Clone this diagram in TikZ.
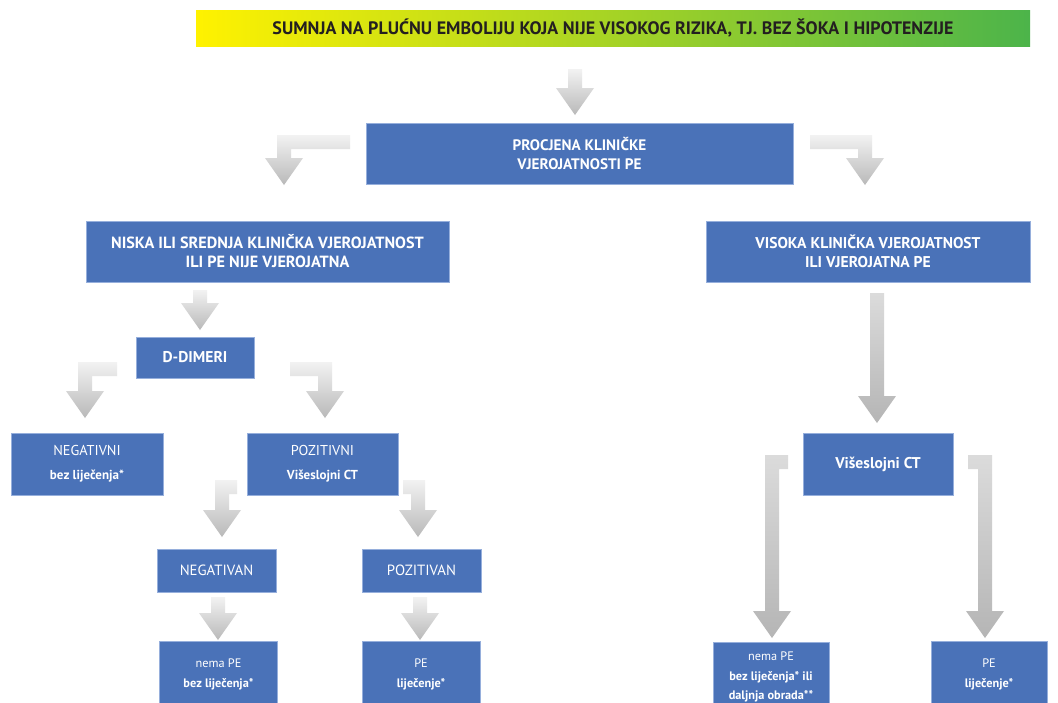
\documentclass[tikz,border=0pt]{standalone}
\usepackage{fontspec}
\setmainfont{PT Sans}
\usetikzlibrary{calc}
\definecolor{boxblue}{RGB}{74,114,184}
\definecolor{boxedge}{RGB}{150,175,220}
\definecolor{bannerY}{RGB}{255,242,0}
\definecolor{bannerM}{RGB}{185,215,45}
\definecolor{bannerG}{RGB}{76,180,74}
\definecolor{txtdark}{RGB}{35,31,32}
\tikzset{
  box/.style={fill=boxblue, draw=boxedge, line width=0.5pt, text=white, align=center,
    inner sep=0pt, font=\fontsize{15.6}{19}\selectfont\bfseries},
  smallbox/.style={box, font=\fontsize{13}{24}\selectfont\bfseries},
  tinybox/.style={box, font=\fontsize{12.3}{20}\selectfont\bfseries},
  blockarrow/.style={top color=gray!10, bottom color=gray!55, draw=none},
  longarrow/.style={top color=gray!28, bottom color=gray!58, draw=none},
  bannerbox/.style={left color=bannerY, middle color=bannerM, right color=bannerG,
    draw=none, inner sep=0pt, text=txtdark, font=\fontsize{18}{20}\selectfont\bfseries},
}
% straight down arrow: style, x, top y, tip y
\newcommand\dnarrow[4][blockarrow]{\path[#1] (#2-7,#3) -- (#2+7,#3) -- (#2+7,#4-27) -- (#2+19,#4-27)
  -- (#2,#4) -- (#2-19,#4-27) -- (#2-7,#4-27) -- cycle;}
% bent arrow going left then down: bar right end x, shaft x, bar top y, tip y
\newcommand\lbarrow[5][blockarrow]{\path[#1] (#2,#4) -- (#3-7,#4) -- (#3-7,#5-27) -- (#3-19,#5-27)
  -- (#3,#5) -- (#3+19,#5-27) -- (#3+7,#5-27) -- (#3+7,#4+14) -- (#2,#4+14) -- cycle;}
% bent arrow going right then down: bar left end x, shaft x, bar top y, tip y
\newcommand\rbarrow[5][blockarrow]{\path[#1] (#2,#4) -- (#3+7,#4) -- (#3+7,#5-27) -- (#3+19,#5-27)
  -- (#3,#5) -- (#3-19,#5-27) -- (#3-7,#5-27) -- (#3-7,#4+14) -- (#2,#4+14) -- cycle;}
\begin{document}
\begin{tikzpicture}[x=1pt,y=-1pt]
\useasboundingbox (0,0) rectangle (1058,702);
\clip (0,0) rectangle (1058,702);
\fill[white] (0,0) rectangle (1058,702);

\node[bannerbox, minimum width=834pt, minimum height=36pt] (banner) at (613,28)
  {SUMNJA NA PLUĆNU EMBOLIJU KOJA NIJE VISOKOG RIZIKA, TJ. BEZ ŠOKA I HIPOTENZIJE};

\node[box, minimum width=427pt, minimum height=61pt, font=\fontsize{15.2}{19}\selectfont\bfseries] (procjena) at (579.5,153.5)
  {PROCJENA KLINIČKE\\VJEROJATNOSTI PE};
\node[box, minimum width=363pt, minimum height=61pt, font=\fontsize{16.2}{19}\selectfont\bfseries] (niska) at (267.5,251.5)
  {NISKA ILI SREDNJA KLINIČKA VJEROJATNOST\\ILI PE NIJE VJEROJATNA};
\node[box, minimum width=324pt, minimum height=61pt] (visoka) at (868,251.5)
  {VISOKA KLINIČKA VJEROJATNOST\\ILI VJEROJATNA PE};
\node[box, minimum width=118pt, minimum height=41pt] (ddimeri) at (195,357.5) {D-DIMERI};
\node[smallbox, minimum width=152pt, minimum height=62pt] (negativni) at (87,464)
  {{\mdseries\fontsize{14.3}{24}\selectfont NEGATIVNI}\\bez liječenja*};
\node[smallbox, minimum width=151pt, minimum height=62pt] (pozitivni) at (322.5,464)
  {{\mdseries\fontsize{14.3}{24}\selectfont POZITIVNI}\\Višeslojni CT};
\node[box, minimum width=119pt, minimum height=43pt, font=\fontsize{14.8}{17}\selectfont] (negativan) at (216.5,570.5) {NEGATIVAN};
\node[box, minimum width=119pt, minimum height=43pt, font=\fontsize{14.8}{17}\selectfont] (pozitivan) at (421.5,570.5) {POZITIVAN};
\node[tinybox, minimum width=118pt, minimum height=66pt] (nemape1) at (218.5,674)
  {{\mdseries nema PE}\\bez liječenja*};
\node[tinybox, minimum width=118pt, minimum height=66pt] (pe1) at (421,674)
  {{\mdseries PE}\\liječenje*};
\node[box, minimum width=150pt, minimum height=62pt] (ct) at (878,464.5) {Višeslojni CT};
\node[tinybox, minimum width=116pt, minimum height=70pt, font=\fontsize{12.3}{19.5}\selectfont\bfseries] (nemape2) at (771,677)
  {{\mdseries nema PE}\\bez liječenja* ili\\daljnja obrada**};
\node[tinybox, minimum width=116pt, minimum height=66pt] (pe2) at (989,674)
  {{\mdseries PE}\\liječenje*};

% arrows
\dnarrow{575}{69}{115}
\lbarrow{350}{284}{135}{185}
\rbarrow{810}{865}{135}{185}
\dnarrow{200}{290}{330}
\dnarrow[longarrow]{877}{293}{423}
\lbarrow{117}{85}{362}{418}
\rbarrow{290}{325}{362}{418}
\lbarrow{237}{222}{480}{537}
\rbarrow{403}{418}{480}{537}
\dnarrow{218}{597}{640}
\dnarrow{420}{597}{640}
\lbarrow[longarrow]{788}{772}{455}{638}
\rbarrow[longarrow]{968}{985}{455}{638}
\end{tikzpicture}
\end{document}
